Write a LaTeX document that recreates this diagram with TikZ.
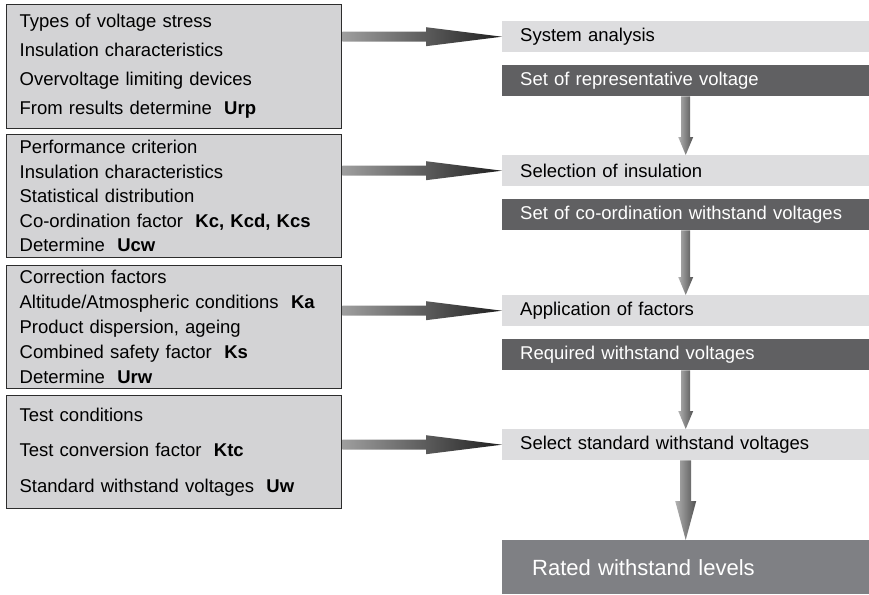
\documentclass[tikz,border=0pt]{standalone}
\usepackage{fontspec}
\setmainfont{Liberation Sans}
\usepackage{xcolor}
\usetikzlibrary{calc}

\definecolor{leftgray}{RGB}{211,211,213}
\definecolor{lightgray}{RGB}{221,221,223}
\definecolor{darkgray}{RGB}{96,96,98}
\definecolor{ratedgray}{RGB}{127,128,132}
\definecolor{framegray}{RGB}{45,45,45}

\tikzset{
  infobox/.style={draw=framegray, line width=1.3pt, fill=leftgray, anchor=north west,
    minimum width=335pt, text width=309pt, inner xsep=13pt, inner ysep=0pt, align=left},
  stepbox/.style={fill=lightgray, anchor=north west, minimum width=367pt, minimum height=31pt,
    text width=331pt, inner xsep=18pt, inner ysep=0pt, align=left,
    font=\fontsize{18.5}{22}\selectfont},
  resultbox/.style={stepbox, fill=darkgray, text=white},
  hshade/.style={left color=black!38, right color=black!88},
  vshade/.style={left color=black!30, right color=black!68}
}

% shaded block arrows, from node anchor to node anchor
\newcommand{\hflow}[2]{%
  \shade[hshade] let \p1=(#1), \p2=(#2) in
    (\x1,\y2+5pt) -- (\x2-76pt,\y2+5pt) -- (\x2-76pt,\y2+9.5pt) -- (\x2,\y2)
    -- (\x2-76pt,\y2-9.5pt) -- (\x2-76pt,\y2-5pt) -- (\x1,\y2-5pt) -- cycle;}
\newcommand{\vflow}[5]{%
  \shade[vshade] let \p1=(#1), \p2=(#2) in
    (\x1-#3,\y1) -- (\x1-#3,\y2+#5) -- (\x1-#4,\y2+#5) -- (\x1,\y2)
    -- (\x1+#4,\y2+#5) -- (\x1+#3,\y2+#5) -- (\x1+#3,\y1) -- cycle;}

\begin{document}
\begin{tikzpicture}[x=1pt, y=-1pt]
\useasboundingbox (0,0) rectangle (869,594);

% left column
\node[infobox, minimum height=124pt, font=\fontsize{18.5}{29}\selectfont] (stress) at (6,4)
  {Types of voltage stress\\ Insulation characteristics\\ Overvoltage limiting devices\\
   From results determine~~\textbf{Urp}};
\node[infobox, minimum height=123pt, font=\fontsize{18.5}{24.5}\selectfont] (criterion) at (6,134)
  {Performance criterion\\ Insulation characteristics\\ Statistical distribution\\
   Co-ordination factor~~\textbf{Kc, Kcd, Kcs}\\ Determine~~\textbf{Ucw}};
\node[infobox, minimum height=123pt, font=\fontsize{18.5}{25}\selectfont] (correction) at (6,265)
  {Correction factors\\ Altitude/Atmospheric conditions~~\textbf{Ka}\\ Product dispersion, ageing\\
   Combined safety factor~~\textbf{Ks}\\ Determine~~\textbf{Urw}};
\node[infobox, minimum height=113pt, font=\fontsize{18.5}{35.5}\selectfont] (testcond) at (6,395)
  {Test conditions\\ Test conversion factor~~\textbf{Ktc}\\ Standard withstand voltages~~\textbf{Uw}};

% right column
\node[stepbox] (sysan) at (502,21) {System analysis};
\node[resultbox] (urp) at (502,65) {Set of representative voltage};
\node[stepbox] (selins) at (502,155) {Selection of insulation};
\node[resultbox] (ucw) at (502,199) {Set of co-ordination withstand voltages};
\node[stepbox] (appfac) at (502,295) {Application of factors};
\node[resultbox] (urw) at (502,339) {Required withstand voltages};
\node[stepbox] (selstd) at (502,429) {Select standard withstand voltages};
\node[stepbox, fill=ratedgray, text=white, minimum height=54pt, inner xsep=30pt, text width=307pt,
  font=\fontsize{22}{26}\selectfont] (rated) at (502,540) {Rated withstand levels};

% arrows
\hflow{stress.east}{sysan.west}
\hflow{criterion.east}{selins.west}
\hflow{correction.east}{appfac.west}
\hflow{testcond.east}{selstd.west}
\vflow{urp.south}{selins.north}{4.5pt}{7.5pt}{18pt}
\vflow{ucw.south}{appfac.north}{4.5pt}{7.5pt}{18pt}
\vflow{urw.south}{selstd.north}{4.5pt}{7.5pt}{18pt}
\vflow{selstd.south}{rated.north}{5.5pt}{10.5pt}{39pt}
\end{tikzpicture}
\end{document}
